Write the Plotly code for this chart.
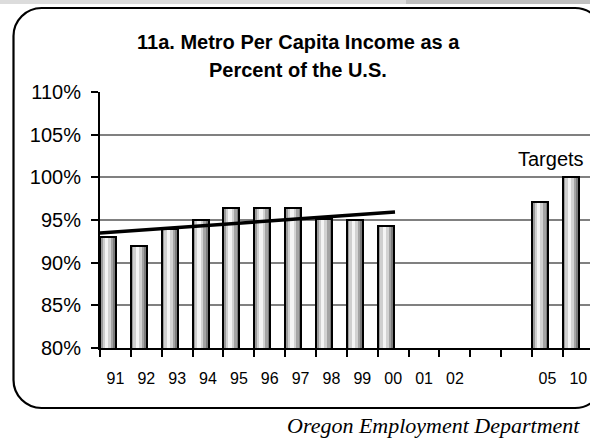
import numpy as np
import plotly.graph_objects as go

# ---------------- data ----------------
CATEGORIES = ["91", "92", "93", "94", "95", "96", "97", "98", "99", "00",
              "01", "02", "", "", "05", "10"]
ACTUAL_CATS = ["91", "92", "93", "94", "95", "96", "97", "98", "99", "00"]
ACTUAL_VALUES = [93.0, 92.0, 94.0, 95.0, 96.4, 96.4, 96.4, 95.1, 95.0, 94.3]
TARGET_CATS = ["05", "10"]
TARGET_VALUES = [97.1, 100.0]
Y_TICKS = [80, 85, 90, 95, 100, 105, 110]
Y_TICK_TEXT = ["80%", "85%", "90%", "95%", "100%", "105%", "110%"]
TITLE_LINES = ["11a. Metro Per Capita Income as a", "Percent of the U.S."]
TARGET_LABEL = "Targets"
SOURCE = "Oregon Employment Department"

# ---------------- layout constants (pixels) ----------------
W, H = 590, 438
PL, PR, PT, PB = 100, 590, 92, 348          # plot area edges
CAT_PX = 30.86                               # category width in px
X_RANGE = [-0.5, -0.5 + (PR - PL) / CAT_PX]
BAR_W = 0.52
TREND_BACK, TREND_FWD = 0.55, 0.06


def px_x(p):
    return (p - PL) / (PR - PL)


def px_y(p):
    return (PB - p) / (PB - PT)


pos_of = {c: i for i, c in enumerate(CATEGORIES) if c}
bar_x = [pos_of[c] for c in ACTUAL_CATS] + [pos_of[c] for c in TARGET_CATS]
bar_y = ACTUAL_VALUES + TARGET_VALUES

fig = go.Figure()

# cylinder-like shading: vertical stripes
STRIPES = [(0.00, 0.16, "#9a9a9a"), (0.16, 0.30, "#cfcfcf"), (0.30, 0.52, "#f4f4f4"),
           (0.52, 0.68, "#d2d2d2"), (0.68, 0.84, "#a4a4a4"), (0.84, 1.00, "#7c7c7c")]
for f0, f1, col in STRIPES:
    fig.add_trace(go.Bar(x=bar_x, y=bar_y, offset=-0.5 + f0 * BAR_W, width=(f1 - f0) * BAR_W,
                         marker=dict(color=col, line=dict(width=0)),
                         showlegend=False, hoverinfo="skip"))
fig.add_trace(go.Bar(x=bar_x, y=bar_y, offset=-0.5, width=BAR_W,
                     marker=dict(color="rgba(0,0,0,0)", line=dict(color="black", width=2)),
                     showlegend=False))

# linear trend line through the actual values
xa = np.array([pos_of[c] for c in ACTUAL_CATS], dtype=float)
slope, icpt = np.polyfit(xa, np.array(ACTUAL_VALUES), 1)
tx = np.array([xa.min() - TREND_BACK, xa.max() + TREND_FWD])
fig.add_trace(go.Scatter(x=tx, y=slope * tx + icpt, mode="lines",
                         line=dict(color="black", width=3.5), showlegend=False))

AX_FONT = dict(family="Arial, Liberation Sans, sans-serif", color="black")

fig.update_layout(
    width=W, height=H,
    margin=dict(l=PL, r=W - PR, t=PT, b=H - PB, pad=0),
    paper_bgcolor="white", plot_bgcolor="white",
    barmode="overlay", bargap=0,
    showlegend=False,
    xaxis=dict(range=X_RANGE, tickmode="array", tickvals=list(range(len(CATEGORIES))),
               ticktext=CATEGORIES, ticks="outside", ticklen=15,
               tickcolor="rgba(0,0,0,0)", tickfont=dict(size=16, **AX_FONT),
               showline=True, linecolor="black", linewidth=2, showgrid=False,
               zeroline=False,
               minor=dict(tickmode="linear", tick0=-0.5, dtick=1, ticks="outside",
                          ticklen=7, tickwidth=2, tickcolor="black", showgrid=False)),
    yaxis=dict(range=[Y_TICKS[0], Y_TICKS[-1]], tickmode="array", tickvals=Y_TICKS,
               ticktext=Y_TICK_TEXT, ticks="outside", ticklen=7, tickwidth=2,
               tickcolor="black",
               tickfont=dict(size=20, **AX_FONT), ticklabelstandoff=6,
               showline=True, linecolor="black", linewidth=2,
               showgrid=True, gridcolor="#808080", gridwidth=1.5, zeroline=False),
)

TITLE_FONT = dict(size=20, family="Arial, Liberation Sans, sans-serif",
                  color="black", weight="bold")
for line, cy in zip(TITLE_LINES, [42, 70]):
    fig.add_annotation(text=line, xref="paper", yref="paper", x=px_x(298), xanchor="center",
                       y=px_y(cy), yanchor="middle", showarrow=False, font=TITLE_FONT)

fig.add_annotation(text=TARGET_LABEL, xref="paper", yref="paper",
                   x=px_x(586), xanchor="right", y=px_y(159), yanchor="middle",
                   showarrow=False, font=dict(size=20, **AX_FONT))
fig.add_annotation(text=SOURCE, xref="paper", yref="paper",
                   x=px_x(285), xanchor="left", y=px_y(425), yanchor="middle",
                   showarrow=False,
                   font=dict(size=22, family="Times New Roman, Liberation Serif, serif",
                             color="black", style="italic"))

# top grey strip
fig.add_shape(type="rect", xref="paper", yref="paper", x0=px_x(0), x1=px_x(406),
              y0=px_y(0), y1=px_y(4), fillcolor="#dcdcdc", line=dict(width=0))
fig.add_shape(type="rect", xref="paper", yref="paper", x0=px_x(406), x1=px_x(W),
              y0=px_y(0), y1=px_y(4), fillcolor="#c0c0c0", line=dict(width=0))

# rounded frame
L, T, R, B, r = 13.5, 8, 603, 408, 28
k = 0.5523 * r


def P(x, y):
    return f"{px_x(x):.5f},{px_y(y):.5f}"


path = (f"M {P(L + r, T)} L {P(R - r, T)} C {P(R - r + k, T)} {P(R, T + r - k)} {P(R, T + r)} "
        f"L {P(R, B - r)} C {P(R, B - r + k)} {P(R - r + k, B)} {P(R - r, B)} "
        f"L {P(L + r, B)} C {P(L + r - k, B)} {P(L, B - r + k)} {P(L, B - r)} "
        f"L {P(L, T + r)} C {P(L, T + r - k)} {P(L + r - k, T)} {P(L + r, T)} Z")
fig.add_shape(type="path", xref="paper", yref="paper", path=path,
              line=dict(color="black", width=2.2), fillcolor="rgba(0,0,0,0)")

fig.write_html("out.html", config={"displayModeBar": False},
               post_script="document.body.style.margin='0';document.body.style.overflow='hidden';")
